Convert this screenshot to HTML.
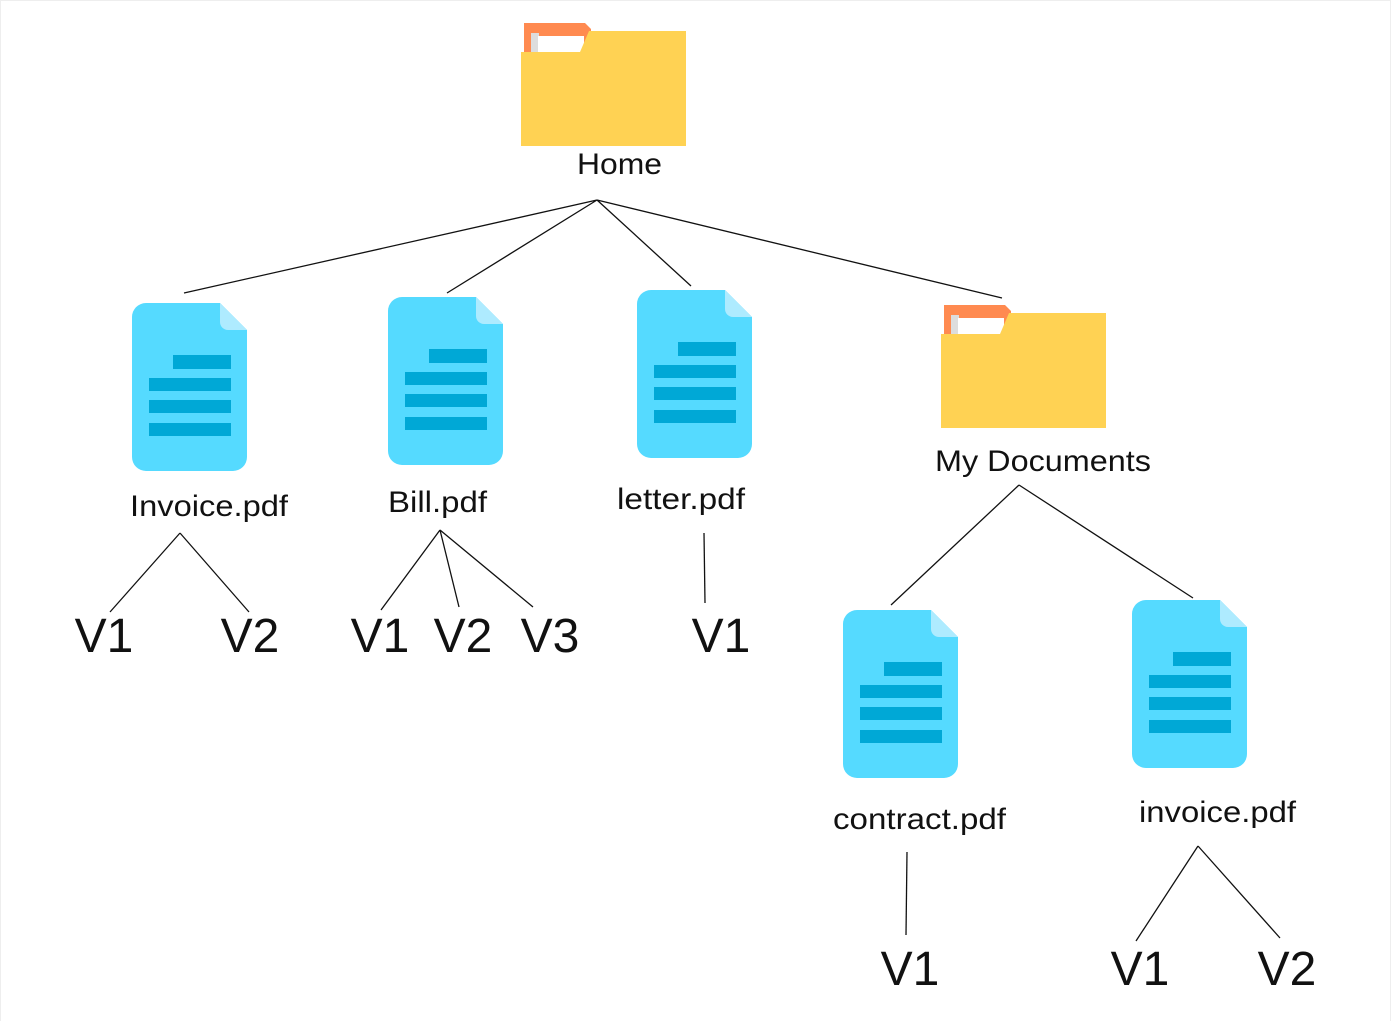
<!DOCTYPE html>
<html><head><meta charset="utf-8"><style>
html,body{margin:0;padding:0;background:#fff;}
svg{display:block;}
text{font-family:"Liberation Sans",sans-serif;fill:#111;}
</style></head><body>
<svg width="1391" height="1021" viewBox="0 0 1391 1021" xmlns="http://www.w3.org/2000/svg">
<defs>
<g id="folder">
<path d="M3 0 H64 L70 6 V30 H3 Z" fill="#FF8A50"/>
<rect x="10" y="10" width="8" height="20" fill="#ddd"/>
<rect x="17" y="13" width="46" height="17" fill="#fff"/>
<path d="M0 29 H59 L68 8 H165 V123 H0 Z" fill="#FFD253"/>
</g>
<g id="doc">
<path d="M14 0 H88 L115 27 V154 A14 14 0 0 1 101 168 H14 A14 14 0 0 1 0 154 V14 A14 14 0 0 1 14 0 Z" fill="#55DAFF"/>
<path d="M88 0 L115 27 H96 A8 8 0 0 1 88 19 Z" fill="#AEEBFF"/>
<rect x="41" y="52" width="58" height="14" fill="#00A8D6"/>
<rect x="17" y="75" width="82" height="13" fill="#00A8D6"/>
<rect x="17" y="97" width="82" height="13" fill="#00A8D6"/>
<rect x="17" y="120" width="82" height="13" fill="#00A8D6"/>
</g>
</defs>
<rect x="0.5" y="0.5" width="1390" height="1030" fill="none" stroke="#eee"/>
<use href="#folder" x="521" y="23"/>
<use href="#folder" x="941" y="305"/>
<use href="#doc" x="132" y="303"/>
<use href="#doc" x="388" y="297"/>
<use href="#doc" x="637" y="290"/>
<use href="#doc" x="843" y="610"/>
<use href="#doc" x="1132" y="600"/>
<g stroke="#111" stroke-width="1.3" fill="none">
<path d="M597 200 L184 293 M597 200 L447 293 M597 200 L691 286 M597 200 L1002 298"/>
<path d="M180 533 L110 612 M180 533 L249 612"/>
<path d="M440 530 L381 610 M440 530 L459 607 M440 530 L533 607"/>
<path d="M704 533 L705 603"/>
<path d="M1019 485 L891 605 M1019 485 L1193 598"/>
<path d="M907 852 L906 935"/>
<path d="M1198 846 L1136 941 M1198 846 L1280 938"/>
</g>
<g font-size="30" lengthAdjust="spacingAndGlyphs">
<text x="577" y="174" textLength="85" lengthAdjust="spacingAndGlyphs">Home</text>
<text x="130" y="516" textLength="158" lengthAdjust="spacingAndGlyphs">Invoice.pdf</text>
<text x="388" y="512" textLength="99" lengthAdjust="spacingAndGlyphs">Bill.pdf</text>
<text x="617" y="509" textLength="128" lengthAdjust="spacingAndGlyphs">letter.pdf</text>
<text x="935" y="471" textLength="216" lengthAdjust="spacingAndGlyphs">My Documents</text>
<text x="833" y="829" textLength="173" lengthAdjust="spacingAndGlyphs">contract.pdf</text>
<text x="1139" y="822" textLength="157" lengthAdjust="spacingAndGlyphs">invoice.pdf</text>
</g>
<g font-size="48" text-anchor="middle">
<text x="104" y="652">V1</text>
<text x="250" y="652">V2</text>
<text x="380" y="652">V1</text>
<text x="463" y="652">V2</text>
<text x="550" y="652">V3</text>
<text x="721" y="652">V1</text>
<text x="910" y="985">V1</text>
<text x="1140" y="985">V1</text>
<text x="1287" y="985">V2</text>
</g>
</svg>
</body></html>
